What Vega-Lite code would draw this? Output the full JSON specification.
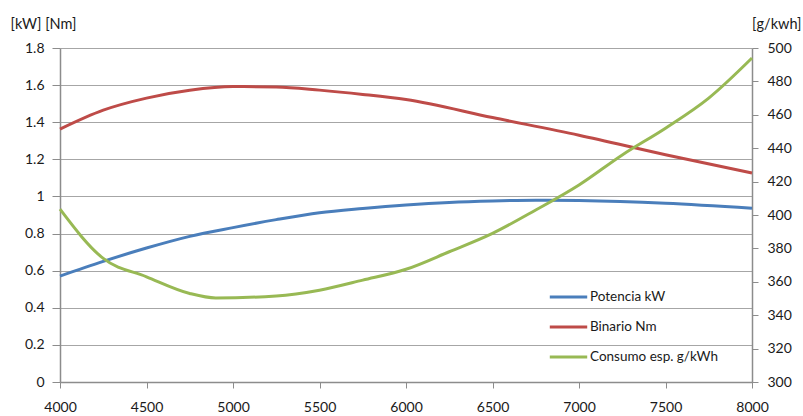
{
  "$schema": "https://vega.github.io/schema/vega-lite/v6.json",
  "width": 692,
  "height": 334,
  "autosize": "none",
  "padding": {"left": 60, "top": 48, "right": 51, "bottom": 34},
  "background": "white",
  "config": {
    "font": "Lato",
    "view": {"stroke": null},
    "axis": {
      "labelFont": "Lato",
      "labelFontSize": 14,
      "labelColor": "#1a1a1a",
      "labelOverlap": false,
      "domainColor": "#8c8c8c",
      "tickColor": "#8c8c8c",
      "gridColor": "#a6a6a6",
      "gridWidth": 1,
      "domainWidth": 1.5,
      "tickSize": 6,
      "titleFont": "Lato",
      "titleFontSize": 14.5,
      "titleFontWeight": "normal",
      "titleColor": "#1a1a1a"
    }
  },
  "data": {
    "values": [
      {"rpm": 4000, "serie": "Potencia kW", "valor": 0.571},
      {"rpm": 4250, "serie": "Potencia kW", "valor": 0.650},
      {"rpm": 4500, "serie": "Potencia kW", "valor": 0.722},
      {"rpm": 4750, "serie": "Potencia kW", "valor": 0.785},
      {"rpm": 5000, "serie": "Potencia kW", "valor": 0.832},
      {"rpm": 5250, "serie": "Potencia kW", "valor": 0.875},
      {"rpm": 5500, "serie": "Potencia kW", "valor": 0.912},
      {"rpm": 5750, "serie": "Potencia kW", "valor": 0.935},
      {"rpm": 6000, "serie": "Potencia kW", "valor": 0.954},
      {"rpm": 6250, "serie": "Potencia kW", "valor": 0.968},
      {"rpm": 6500, "serie": "Potencia kW", "valor": 0.976},
      {"rpm": 6750, "serie": "Potencia kW", "valor": 0.980},
      {"rpm": 7000, "serie": "Potencia kW", "valor": 0.978},
      {"rpm": 7500, "serie": "Potencia kW", "valor": 0.963},
      {"rpm": 8000, "serie": "Potencia kW", "valor": 0.936},

      {"rpm": 4000, "serie": "Binario Nm", "valor": 1.363},
      {"rpm": 4250, "serie": "Binario Nm", "valor": 1.465},
      {"rpm": 4500, "serie": "Binario Nm", "valor": 1.530},
      {"rpm": 4750, "serie": "Binario Nm", "valor": 1.572},
      {"rpm": 5000, "serie": "Binario Nm", "valor": 1.592},
      {"rpm": 5250, "serie": "Binario Nm", "valor": 1.590},
      {"rpm": 5500, "serie": "Binario Nm", "valor": 1.573},
      {"rpm": 5750, "serie": "Binario Nm", "valor": 1.550},
      {"rpm": 6000, "serie": "Binario Nm", "valor": 1.522},
      {"rpm": 6500, "serie": "Binario Nm", "valor": 1.425},
      {"rpm": 7000, "serie": "Binario Nm", "valor": 1.330},
      {"rpm": 7500, "serie": "Binario Nm", "valor": 1.225},
      {"rpm": 8000, "serie": "Binario Nm", "valor": 1.126},

      {"rpm": 4000, "serie": "Consumo esp. g/kWh", "valor": 403.5},
      {"rpm": 4250, "serie": "Consumo esp. g/kWh", "valor": 374},
      {"rpm": 4500, "serie": "Consumo esp. g/kWh", "valor": 363},
      {"rpm": 4750, "serie": "Consumo esp. g/kWh", "valor": 353},
      {"rpm": 4900, "serie": "Consumo esp. g/kWh", "valor": 350.3},
      {"rpm": 5250, "serie": "Consumo esp. g/kWh", "valor": 351.5},
      {"rpm": 5500, "serie": "Consumo esp. g/kWh", "valor": 355},
      {"rpm": 5750, "serie": "Consumo esp. g/kWh", "valor": 361},
      {"rpm": 6000, "serie": "Consumo esp. g/kWh", "valor": 367.5},
      {"rpm": 6250, "serie": "Consumo esp. g/kWh", "valor": 378},
      {"rpm": 6500, "serie": "Consumo esp. g/kWh", "valor": 389},
      {"rpm": 6750, "serie": "Consumo esp. g/kWh", "valor": 403},
      {"rpm": 7000, "serie": "Consumo esp. g/kWh", "valor": 418},
      {"rpm": 7250, "serie": "Consumo esp. g/kWh", "valor": 436},
      {"rpm": 7500, "serie": "Consumo esp. g/kWh", "valor": 452},
      {"rpm": 7750, "serie": "Consumo esp. g/kWh", "valor": 470},
      {"rpm": 8000, "serie": "Consumo esp. g/kWh", "valor": 494}
    ]
  },
  "encoding": {
    "x": {
      "field": "rpm",
      "type": "quantitative",
      "scale": {"domain": [4000, 8000], "nice": false, "zero": false},
      "axis": {"values": [4000, 4500, 5000, 5500, 6000, 6500, 7000, 7500, 8000], "grid": false, "title": null, "labelPadding": 12, "labelFlush": false, "format": "d"}
    },
    "color": {
      "field": "serie",
      "type": "nominal",
      "scale": {
        "domain": ["Potencia kW", "Binario Nm", "Consumo esp. g/kWh"],
        "range": ["#4a7ebb", "#be4b48", "#98b954"]
      },
      "legend": {
        "title": null,
        "orient": "none",
        "legendX": 488,
        "legendY": 234,
        "symbolType": "stroke",
        "symbolSize": 1400,
        "symbolStrokeWidth": 3,
        "clipHeight": 30,
        "labelFont": "Lato",
        "labelFontSize": 13.5,
        "labelColor": "#1a1a1a",
        "labelOffset": 1,
        "rowPadding": 0
      }
    }
  },
  "layer": [
    {
      "transform": [{"filter": "datum.serie !== 'Consumo esp. g/kWh'"}],
      "mark": {"type": "line", "interpolate": "monotone", "strokeWidth": 3},
      "encoding": {
        "y": {
          "field": "valor",
          "type": "quantitative",
          "scale": {"domain": [0, 1.8], "nice": false},
          "axis": {
            "values": [0, 0.2, 0.4, 0.6, 0.8, 1, 1.2, 1.4, 1.6, 1.8],
            "format": "~g",
            "grid": true,
            "tickSize": 8,
            "labelPadding": 8,
            "title": "[kW]  [Nm]",
            "titleAngle": 0,
            "titleAlign": "left",
            "titleBaseline": "alphabetic",
            "titleX": -50,
            "titleY": -20
          }
        }
      }
    },
    {
      "transform": [{"filter": "datum.serie === 'Consumo esp. g/kWh'"}],
      "mark": {"type": "line", "interpolate": "monotone", "strokeWidth": 3},
      "encoding": {
        "y": {
          "field": "valor",
          "type": "quantitative",
          "scale": {"domain": [300, 500], "nice": false, "zero": false},
          "axis": {
            "orient": "right",
            "values": [300, 320, 340, 360, 380, 400, 420, 440, 460, 480, 500],
            "grid": false,
            "labelPadding": 9,
            "title": "[g/kwh]",
            "titleAngle": 0,
            "titleAlign": "right",
            "titleBaseline": "alphabetic",
            "titleX": 49,
            "titleY": -20
          }
        }
      }
    }
  ],
  "resolve": {"scale": {"y": "independent"}}
}
